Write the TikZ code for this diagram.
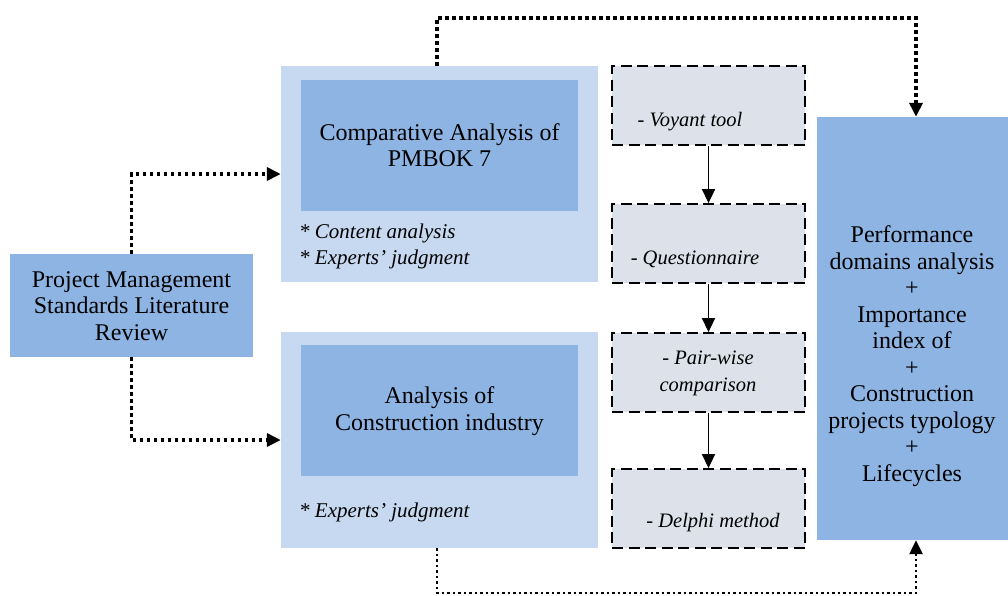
\documentclass[tikz,border=0pt]{standalone}
\usepackage{fontspec}
\setmainfont{Liberation Serif}
\usetikzlibrary{arrows.meta,calc}
\definecolor{midblue}{HTML}{8EB4E3}
\definecolor{paleblue}{HTML}{C6D9F1}
\definecolor{dashfill}{HTML}{DCE1EA}
\tikzset{
  box/.style={rectangle,inner sep=0pt,draw=none},
  midbox/.style={box,fill=midblue},
  outerbox/.style={box,fill=paleblue},
  methodbox/.style={box,fill=dashfill,draw=black,line width=1.8pt,dash pattern=on 11pt off 5.5pt},
  maintext/.style={align=center,font=\fontsize{24}{26.5}\selectfont,inner sep=0pt},
  itext/.style={align=left,font=\fontsize{21}{26}\selectfont\itshape,inner sep=0pt,anchor=west},
  mtext/.style={align=center,font=\fontsize{20.5}{27}\selectfont\itshape,inner sep=0pt},
  dotline/.style={line width=3.5pt,dash pattern=on 3.5pt off 3.5pt},
  thindot/.style={line width=2.4pt,dash pattern=on 2.5pt off 3pt},
  dtip/.style={-{Triangle[width=13pt,length=14pt]}},
  solidarrow/.style={line width=1.5pt,-{Triangle[width=13pt,length=14pt]}}
}
\begin{document}
\begin{tikzpicture}[x=1pt,y=-1pt]
\useasboundingbox (0,0) rectangle (1008,595);
% boxes
\node[midbox,minimum width=243pt,minimum height=103pt] (lit) at (131.5,305.5) {};
\node[outerbox,minimum width=317pt,minimum height=216pt] (topouter) at (439.5,174) {};
\node[midbox,minimum width=277pt,minimum height=131pt] (topinner) at (439.5,145.5) {};
\node[outerbox,minimum width=317pt,minimum height=216pt] (botouter) at (439.5,440) {};
\node[midbox,minimum width=277pt,minimum height=131pt] (botinner) at (439.5,410.5) {};
\node[methodbox,minimum width=193pt,minimum height=79pt] (voy) at (708.5,105.5) {};
\node[methodbox,minimum width=193pt,minimum height=79pt] (que) at (708.5,243.5) {};
\node[methodbox,minimum width=193pt,minimum height=79pt] (pair) at (708.5,372.5) {};
\node[methodbox,minimum width=193pt,minimum height=79pt] (del) at (708.5,508.5) {};
\node[midbox,minimum width=191pt,minimum height=423pt] (res) at (912.5,328.5) {};
% texts
\node[maintext] (littext) at (131.5,306) {Project Management\\Standards Literature\\Review};
\node[maintext] (toptext) at (439.5,145) {Comparative Analysis of\\PMBOK 7};
\node[maintext] (bottext) at (439.5,411) {Analysis of\\Construction industry};
\node[itext] (topit) at (299,246) {* Content analysis\\* Experts’ judgment};
\node[itext] (botit) at (299,512) {* Experts’ judgment};
\node[mtext] (voytext) at (690,122) {- Voyant tool};
\node[mtext] (quetext) at (695,259) {- Questionnaire};
\node[mtext] (pairtext) at (708,373) {- Pair-wise\\comparison};
\node[mtext] (deltext) at (713,523) {- Delphi method};
\node[maintext] (restext) at (912,356) {Performance\\domains analysis\\+\\Importance\\index of\\+\\Construction\\projects typology\\+\\Lifecycles};
% connectors
\draw[dotline,dtip] (lit.north) |- (topouter.west);
\draw[dotline,dtip] (lit.south) |- (botouter.west);
\coordinate (topcorner) at (437,18);
\coordinate (botcorner) at (437,593);
\draw[dotline,dtip] (topouter.north -| topcorner) -- (topcorner) -| (res.north -| 916,0);
\draw[thindot,dtip] (botouter.south -| botcorner) -- (botcorner) -| (res.south -| 916,0);
\draw[solidarrow] (voy.south) -- (que.north);
\draw[solidarrow] (que.south) -- (pair.north);
\draw[solidarrow] (pair.south) -- (del.north);
\end{tikzpicture}
\end{document}
